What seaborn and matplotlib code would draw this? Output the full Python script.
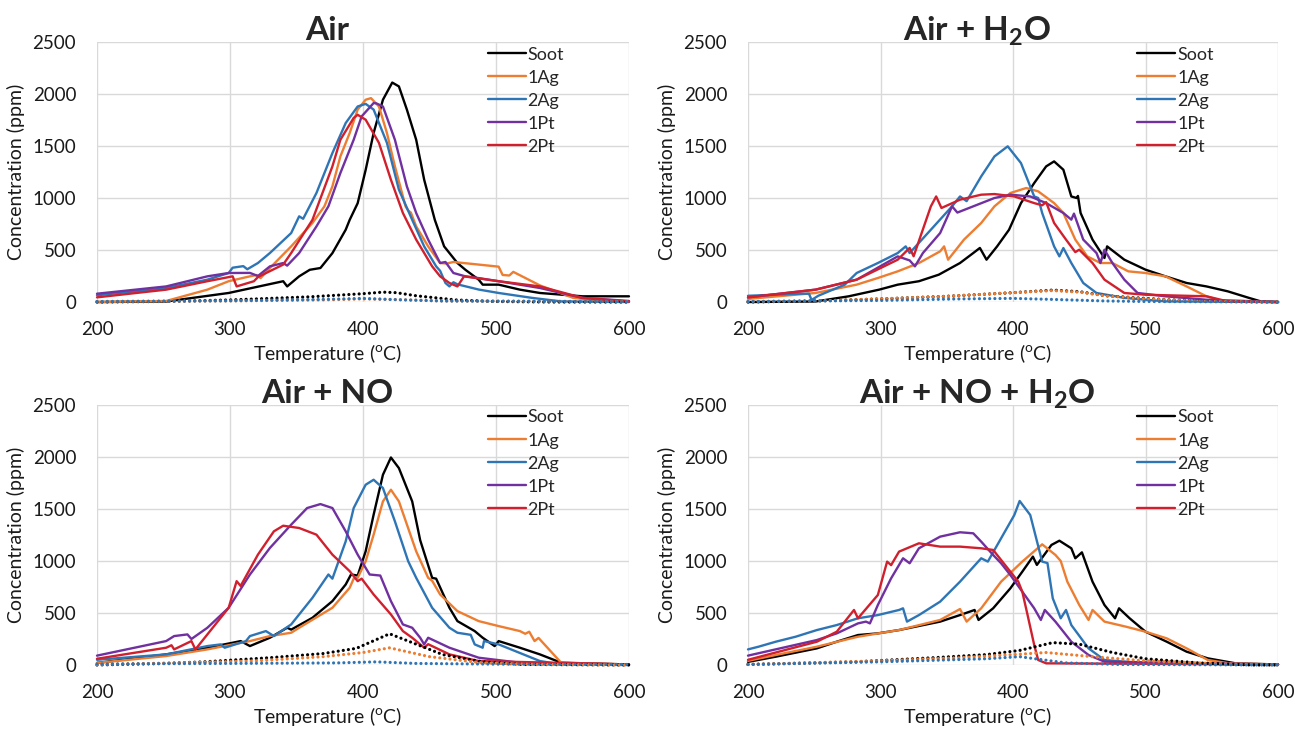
import seaborn as sns
import matplotlib.pyplot as plt

# panel titles, series names and colours
titles = ['Air', 'Air + H$_\\mathbf{2}$O', 'Air + NO', 'Air + NO + H$_\\mathbf{2}$O']
names = ['Soot', '1Ag', '2Ag', '1Pt', '2Pt']
colors = ['#000000', '#ED7D31', '#2E75B6', '#7030A0', '#D0202E']

# ---- Air : (temperature, ppm) ----
air_soot = [(200, 0), (252, 5), (299, 87), (340, 200), (343, 150), (352, 247), (360, 310), (368, 327),
            (377, 470), (387, 695), (390, 790), (396, 950), (402, 1270), (408, 1625), (415, 1945),
            (422, 2110), (427, 2073), (433, 1850), (440, 1560), (446, 1176), (454, 790), (461, 535),
            (471, 375), (477, 310), (487, 215), (490, 167), (502, 167), (518, 119), (533, 87),
            (565, 55), (600, 55)]
air_1ag = [(200, 0), (252, 10), (283, 119), (299, 200), (315, 247), (320, 260), (323, 230), (330, 327),
           (346, 535), (362, 760), (371, 920), (377, 1112), (383, 1400), (390, 1625), (396, 1850),
           (402, 1945), (406, 1960), (412, 1880), (418, 1625), (424, 1304), (432, 920), (434, 880),
           (436, 860), (440, 727), (449, 535), (458, 375), (463, 370), (468, 385), (502, 340),
           (505, 260), (510, 255), (513, 290), (533, 160), (558, 40), (580, 10), (600, 5)]
air_2ag = [(200, 65), (250, 130), (283, 215), (299, 279), (302, 330), (310, 345), (313, 315), (321, 375),
           (330, 471), (346, 663), (352, 824), (355, 800), (365, 1048), (377, 1432), (387, 1721),
           (396, 1880), (402, 1905), (408, 1850), (418, 1530), (427, 1080), (437, 790), (446, 535),
           (455, 343), (458, 300), (462, 183), (465, 150), (468, 190), (471, 170), (487, 120),
           (502, 87), (527, 40), (549, 6), (600, 0)]
air_1pt = [(200, 80), (252, 150), (283, 247), (299, 279), (315, 280), (321, 250), (330, 343), (340, 375),
           (343, 350), (352, 471), (365, 727), (374, 920), (383, 1240), (393, 1560), (399, 1785),
           (408, 1913), (410, 1910), (415, 1880), (424, 1560), (433, 1112), (440, 856), (449, 600),
           (458, 375), (462, 385), (468, 279), (477, 247), (487, 230), (502, 200), (533, 135),
           (565, 40), (600, 10)]
air_2pt = [(200, 45), (252, 119), (283, 200), (302, 247), (305, 150), (318, 200), (321, 240), (340, 360),
           (346, 471), (362, 790), (377, 1304), (383, 1560), (393, 1770), (396, 1800), (402, 1753),
           (412, 1530), (421, 1176), (430, 856), (440, 600), (452, 343), (458, 247), (465, 183),
           (471, 150), (476, 247), (502, 200), (533, 150), (565, 40), (600, 5)]
air_soot_d = [(200, 0), (250, 5), (300, 20), (360, 50), (400, 80), (415, 95), (425, 90), (440, 60),
              (470, 20), (500, 5), (540, 0), (600, 0)]
air_1ag_d = [(200, 5), (300, 10), (370, 20), (400, 30), (420, 25), (460, 10), (600, 5)]
air_2ag_d = [(200, 5), (300, 12), (370, 25), (400, 35), (420, 25), (460, 10), (600, 3)]

# ---- Air + H2O ----
h2o_soot = [(200, 0), (251, 5), (276, 55), (299, 119), (313, 167), (329, 200), (344, 263), (360, 375),
            (370, 471), (375, 520), (380, 407), (388, 535), (397, 695), (406, 951), (416, 1144),
            (425, 1304), (431, 1352), (438, 1272), (444, 1015), (448, 1000), (449, 1020), (451, 856),
            (460, 600), (469, 423), (471, 535), (484, 407), (500, 311), (515, 247), (531, 183),
            (546, 150), (562, 103), (578, 40), (587, 6), (600, 0)]
h2o_1ag = [(200, 30), (251, 87), (282, 167), (298, 231), (313, 295), (329, 375), (345, 487), (348, 535),
           (351, 407), (363, 600), (376, 760), (386, 920), (392, 984), (398, 1048), (410, 1096),
           (419, 1064), (431, 951), (438, 856), (447, 600), (456, 439), (466, 375), (475, 375),
           (487, 295), (500, 279), (515, 247), (531, 150), (546, 55), (559, 6), (600, 0)]
h2o_2ag = [(200, 60), (240, 80), (246, 80), (248, 20), (253, 60), (273, 167), (282, 279), (298, 375),
           (313, 471), (319, 535), (322, 471), (338, 695), (354, 920), (360, 1015), (365, 970),
           (376, 1208), (386, 1400), (396, 1497), (406, 1336), (416, 1015), (419, 1000), (422, 856),
           (431, 535), (435, 439), (438, 519), (444, 375), (453, 183), (463, 87), (484, 40),
           (515, 6), (600, 0)]
h2o_1pt = [(200, 45), (251, 119), (282, 215), (313, 439), (322, 400), (326, 343), (332, 471), (345, 663),
           (354, 920), (358, 860), (370, 920), (386, 1000), (398, 1032), (413, 1015), (425, 951),
           (438, 856), (444, 792), (446, 850), (453, 600), (463, 471), (466, 375), (469, 503),
           (475, 375), (484, 215), (494, 87), (515, 55), (546, 22), (600, 0)]
h2o_2pt = [(200, 45), (251, 119), (282, 215), (313, 407), (322, 520), (325, 440), (338, 920), (342, 1015),
           (346, 904), (360, 984), (376, 1032), (386, 1038), (401, 1015), (416, 951), (422, 930),
           (425, 960), (431, 760), (440, 600), (447, 480), (450, 503), (460, 375), (469, 215),
           (484, 87), (500, 70), (546, 55), (562, 6), (600, 0)]
h2o_soot_d = [(200, 0), (250, 10), (300, 30), (350, 55), (400, 90), (430, 115), (450, 100), (470, 60),
              (500, 35), (520, 20), (560, 5), (600, 0)]
h2o_1ag_d = [(200, 5), (250, 10), (300, 30), (350, 55), (400, 90), (430, 110), (450, 95), (470, 60),
             (500, 30), (540, 10), (600, 0)]
h2o_2ag_d = [(200, 5), (300, 15), (360, 30), (400, 35), (430, 25), (470, 10), (500, 5), (600, 0)]

# ---- Air + NO ----
no_soot = [(200, 20), (252, 102), (283, 166), (302, 214), (308, 230), (315, 182), (330, 262), (343, 358),
           (346, 340), (362, 454), (377, 614), (387, 774), (391, 870), (396, 860), (402, 1093),
           (408, 1445), (415, 1829), (421, 1995), (427, 1893), (437, 1573), (443, 1200), (452, 838),
           (455, 830), (465, 550), (471, 422), (484, 326), (490, 262), (499, 182), (502, 230),
           (518, 166), (533, 102), (549, 22), (600, 5)]
no_1ag = [(200, 20), (252, 86), (283, 150), (315, 230), (330, 278), (346, 310), (352, 358), (377, 550),
          (390, 742), (393, 830), (396, 838), (402, 997), (408, 1253), (415, 1573), (421, 1685),
          (427, 1573), (440, 1093), (449, 838), (452, 810), (458, 678), (471, 518), (487, 422),
          (502, 374), (518, 326), (522, 300), (525, 320), (529, 230), (532, 260), (549, 22), (600, 5)]
no_2ag = [(200, 50), (252, 102), (283, 182), (293, 198), (296, 166), (312, 230), (315, 278), (327, 326),
          (333, 278), (346, 390), (362, 646), (374, 870), (377, 830), (387, 1189), (393, 1509),
          (402, 1733), (408, 1781), (415, 1701), (424, 1381), (434, 997), (440, 838), (452, 550),
          (465, 358), (471, 310), (481, 290), (484, 198), (490, 166), (491, 230), (502, 198),
          (533, 38), (549, 5), (600, 0)]
no_1pt = [(200, 90), (252, 230), (258, 278), (268, 294), (271, 250), (283, 358), (299, 550), (315, 870),
          (330, 1125), (346, 1349), (358, 1509), (368, 1547), (377, 1509), (387, 1285), (396, 1061),
          (405, 870), (413, 860), (421, 614), (430, 390), (437, 358), (443, 262), (446, 198),
          (449, 262), (465, 166), (487, 70), (518, 22), (600, 5)]
no_2pt = [(200, 60), (252, 166), (256, 190), (258, 150), (271, 230), (274, 150), (283, 294), (299, 550),
          (305, 806), (308, 760), (321, 1061), (333, 1285), (340, 1339), (352, 1317), (365, 1253),
          (377, 1061), (390, 902), (396, 806), (399, 830), (408, 678), (421, 486), (430, 326),
          (437, 262), (446, 166), (449, 200), (465, 102), (487, 38), (600, 5)]
no_soot_d = [(200, 0), (250, 15), (280, 30), (330, 70), (370, 110), (395, 160), (420, 300), (440, 200),
             (460, 100), (490, 30), (520, 5), (600, 0)]
no_1ag_d = [(200, 5), (260, 20), (320, 40), (370, 80), (400, 120), (420, 165), (450, 80), (490, 20),
            (530, 5), (600, 0)]
no_2ag_d = [(200, 10), (300, 15), (380, 20), (410, 30), (440, 15), (500, 8), (600, 5)]

# ---- Air + NO + H2O ----
noh_soot = [(200, 30), (221, 80), (252, 160), (267, 224), (283, 288), (298, 304), (314, 336), (345, 417),
            (360, 480), (371, 529), (374, 433), (385, 545), (398, 737), (407, 897), (415, 1042),
            (418, 962), (429, 1154), (435, 1195), (444, 1122), (447, 1026), (452, 1083), (460, 801),
            (469, 577), (477, 449), (480, 545), (488, 449), (500, 320), (516, 224), (531, 128),
            (547, 64), (568, 16), (600, 5)]
noh_1ag = [(200, 40), (221, 96), (252, 176), (283, 272), (314, 336), (345, 433), (360, 538), (365, 417),
           (376, 545), (391, 801), (407, 994), (422, 1160), (432, 1058), (436, 1000), (441, 801),
           (450, 577), (457, 433), (460, 529), (469, 417), (485, 369), (500, 320), (516, 256),
           (531, 160), (547, 48), (563, 16), (600, 5)]
noh_2ag = [(200, 150), (208, 176), (221, 224), (236, 272), (252, 336), (267, 384), (283, 449), (298, 480),
           (314, 529), (317, 545), (320, 417), (329, 480), (345, 609), (360, 801), (376, 1026),
           (381, 994), (391, 1218), (401, 1442), (405, 1577), (413, 1442), (422, 994), (426, 980),
           (430, 641), (436, 449), (440, 529), (444, 384), (457, 160), (469, 48), (500, 16), (600, 5)]
noh_1pt = [(200, 90), (252, 240), (267, 304), (283, 400), (289, 417), (292, 400), (298, 577), (308, 833),
           (317, 1026), (322, 978), (329, 1122), (345, 1234), (360, 1276), (370, 1266), (376, 1186),
           (385, 1058), (391, 978), (398, 865), (407, 705), (416, 545), (421, 433), (424, 529),
           (432, 417), (444, 224), (457, 96), (469, 32), (600, 5)]
noh_2pt = [(200, 50), (252, 224), (267, 320), (280, 529), (283, 449), (298, 673), (305, 994), (308, 960),
           (314, 1090), (329, 1170), (345, 1138), (360, 1138), (376, 1122), (385, 1106), (390, 1026),
           (398, 897), (404, 801), (407, 705), (411, 480), (416, 192), (419, 48), (425, 16), (600, 5)]
noh_soot_d = [(200, 5), (280, 30), (340, 70), (380, 100), (405, 140), (430, 215), (450, 200), (475, 120),
              (500, 60), (540, 20), (580, 0), (600, 0)]
noh_1ag_d = [(200, 5), (300, 40), (360, 70), (400, 100), (425, 120), (460, 80), (500, 40), (560, 10),
             (600, 0)]
noh_2ag_d = [(200, 5), (300, 30), (380, 60), (405, 80), (440, 20), (480, 5), (600, 0)]

panels = [
    ([air_soot, air_1ag, air_2ag, air_1pt, air_2pt], [air_soot_d, air_1ag_d, air_2ag_d]),
    ([h2o_soot, h2o_1ag, h2o_2ag, h2o_1pt, h2o_2pt], [h2o_soot_d, h2o_1ag_d, h2o_2ag_d]),
    ([no_soot, no_1ag, no_2ag, no_1pt, no_2pt], [no_soot_d, no_1ag_d, no_2ag_d]),
    ([noh_soot, noh_1ag, noh_2ag, noh_1pt, noh_2pt], [noh_soot_d, noh_1ag_d, noh_2ag_d]),
]

sns.set_theme(style='whitegrid')
plt.rcParams['font.family'] = ['Lato', 'DejaVu Sans']
plt.rcParams['mathtext.fontset'] = 'custom'
plt.rcParams['mathtext.rm'] = 'Lato'
plt.rcParams['mathtext.bf'] = 'Lato:bold'

fig = plt.figure(figsize=(12.95, 7.29), dpi=100)
positions = [[0.0749, 0.5857, 0.4108, 0.3567], [0.5776, 0.5857, 0.4093, 0.3567],
             [0.0749, 0.0878, 0.4108, 0.3567], [0.5776, 0.0878, 0.4093, 0.3567]]

for pos, title, (solid, dotted) in zip(positions, titles, panels):
    ax = fig.add_axes(pos)
    ax.set_facecolor('white')

    for curve, c in zip(solid, colors):
        t, v = zip(*curve)
        sns.lineplot(x=list(t), y=list(v), ax=ax, color=c, linewidth=1.7,
                     estimator=None, sort=False, clip_on=False)
    handles = list(ax.lines[:5])
    for curve, c in zip(dotted, colors):
        t, v = zip(*curve)
        sns.lineplot(x=list(t), y=list(v), ax=ax, color=c, linewidth=2.3,
                     linestyle=(0, (0.01, 1.6)), dash_capstyle='round',
                     estimator=None, sort=False, clip_on=False)

    ax.set_xlim(200, 600)
    ax.set_ylim(0, 2500)
    ax.set_xticks([200, 300, 400, 500, 600])
    ax.set_yticks([0, 500, 1000, 1500, 2000, 2500])
    ax.grid(True, color='#D9D9D9', linewidth=1)
    for s in ax.spines.values():
        s.set_visible(False)
    ax.tick_params(length=0, labelsize=13.5, colors='#1a1a1a')
    ax.tick_params(axis='x', pad=14)
    ax.tick_params(axis='y', pad=15)

    ax.set_xlabel('Temperature ($^{\\mathrm{o}}$C)', fontsize=14, color='#1a1a1a')
    ax.set_ylabel('Concentration (ppm)', fontsize=14, color='#1a1a1a')
    ax.xaxis.set_label_coords(0.434, -0.152)
    ax.yaxis.set_label_coords(-0.135, 0.5)

    ax.text(0.432, 1.008, title, transform=ax.transAxes, ha='center', va='baseline',
            fontsize=24, fontweight='bold')

    ax.legend(handles, names, loc='upper left', bbox_to_anchor=(0.726, 1.0), frameon=False,
              fontsize=13, handlelength=2.1, handletextpad=0.1, labelspacing=0.39,
              borderaxespad=0, borderpad=0.25)

fig.savefig('out.png', dpi=100)
